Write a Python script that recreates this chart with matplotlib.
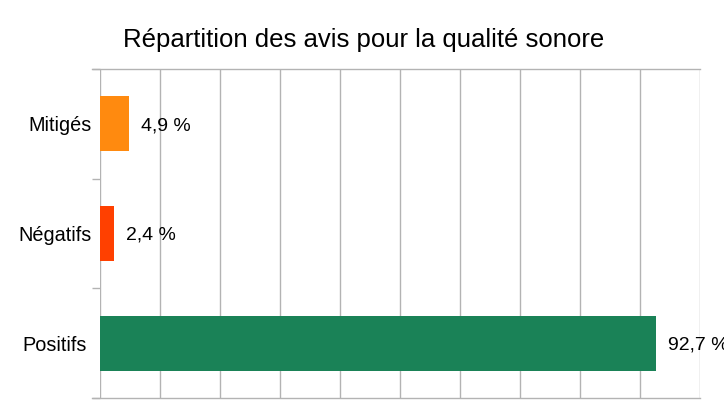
import matplotlib
matplotlib.use("Agg")
import matplotlib.pyplot as plt
import matplotlib.transforms as mtransforms

categories = ["Positifs", "Négatifs", "Mitigés"]
values = [92.7, 2.4, 4.9]
labels = ["92,7 %", "2,4 %", "4,9 %"]
colors = ["#1a8257", "#ff4000", "#ff8a0f"]
title = "Répartition des avis pour la qualité sonore"

plt.rcParams['font.family'] = ['Liberation Sans', 'DejaVu Sans']

W, H = 724, 407
fig = plt.figure(figsize=(W / 100, H / 100), dpi=100)
ax = fig.add_axes([100 / W, 1 - 398 / H, 600 / W, (398 - 69) / H])

y = list(range(len(categories)))
ax.barh(y, values, height=0.5, color=colors, zorder=3)
ax.set_xlim(0, 100)
ax.set_ylim(-0.5, len(categories) - 0.5)

ax.set_xticks(range(0, 101, 10))
ax.set_xticklabels([])
ax.tick_params(axis='x', length=0)
ax.grid(axis='x', color='#b3b3b3', linewidth=1, zorder=0)

ax.set_yticks(y)
ax.set_yticklabels(categories, fontsize=14.3)
ax.tick_params(axis='y', length=0, pad=6)
# category boundary ticks
ax.set_yticks([-0.5 + i for i in range(len(categories) + 1)], minor=True)
ax.tick_params(axis='y', which='minor', length=6, color='#b3b3b3', width=1)

# slight shift of the first label as in the reference
lbl = ax.get_yticklabels()[0]
lbl.set_transform(lbl.get_transform() + mtransforms.ScaledTranslation(-5 / 100, 0, fig.dpi_scale_trans))

for s in ['top', 'bottom', 'left', 'right']:
    ax.spines[s].set_visible(False)
for yy in [-0.5, len(categories) - 0.5]:
    ax.plot([-8 / 6, 100], [yy, yy], color='#b3b3b3', linewidth=1, clip_on=False, zorder=1)

for yi, v, lab in zip(y, values, labels):
    ax.annotate(lab, (v, yi), xytext=(12, -2), textcoords='offset pixels',
                va='center', ha='left', fontsize=14, annotation_clip=False)

fig.text(364 / W, 1 - 40 / H, title, ha='center', va='center', fontsize=18.5)

fig.savefig("out.png", dpi=100)
